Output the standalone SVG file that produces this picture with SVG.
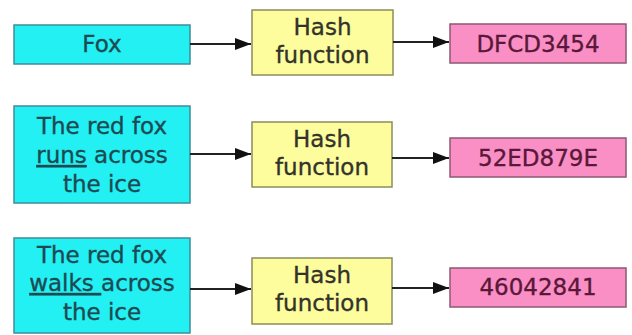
<svg xmlns="http://www.w3.org/2000/svg" width="632" height="335" viewBox="0 0 632 335">
  <style>
    text { font-family: "DejaVu Sans", Verdana, sans-serif; font-size: 23px; text-anchor: middle; stroke-width: 0.35; }
    .in rect { fill: #22f0f2; stroke: #3f8d99; stroke-width: 1.5; }
    .in text { fill: #1d4a52; stroke: #1d4a52; }
    .hf rect { fill: #fdfd9e; stroke: #8c8c5a; stroke-width: 1.5; }
    .hf text { fill: #33332a; stroke: #33332a; }
    .out rect { fill: #fa8fc6; stroke: #8c5a72; stroke-width: 1.5; }
    .out text { fill: #5a1838; stroke: #5a1838; }
    .conn line { stroke: #222; stroke-width: 2; marker-end: url(#arrow); }
  </style>
  <defs>
    <marker id="arrow" viewBox="0 0 16 12" refX="16" refY="6" markerWidth="16" markerHeight="12" markerUnits="userSpaceOnUse" orient="auto">
      <path d="M0,0 L16,6 L0,12 z" fill="#111"/>
    </marker>
  </defs>
  <rect width="632" height="335" fill="#ffffff"/>

  <!-- row 1 -->
  <g id="input1" class="in">
    <rect x="14" y="25" width="176" height="39"/>
    <text x="102" y="52">Fox</text>
  </g>
  <g id="hash1" class="hf">
    <rect x="252" y="10" width="141" height="65"/>
    <text x="322.5" y="35">Hash</text>
    <text x="322.5" y="63">function</text>
  </g>
  <g id="digest1" class="out">
    <rect x="450" y="24" width="176" height="39"/>
    <text x="538" y="52">DFCD3454</text>
  </g>

  <!-- row 2 -->
  <g id="input2" class="in">
    <rect x="14" y="106" width="176" height="97"/>
    <text x="102" y="134">The red fox</text>
    <text x="102" y="163"><tspan text-decoration="underline">runs</tspan> across</text>
    <text x="102" y="192">the ice</text>
  </g>
  <g id="hash2" class="hf">
    <rect x="252" y="122" width="140" height="65"/>
    <text x="322" y="147">Hash</text>
    <text x="322" y="175">function</text>
  </g>
  <g id="digest2" class="out">
    <rect x="450" y="138" width="176" height="39"/>
    <text x="538" y="166">52ED879E</text>
  </g>

  <!-- row 3 -->
  <g id="input3" class="in">
    <rect x="14" y="238" width="176" height="95"/>
    <text x="102" y="263">The red fox</text>
    <text x="102" y="291"><tspan text-decoration="underline">walks </tspan>across</text>
    <text x="102" y="320">the ice</text>
  </g>
  <g id="hash3" class="hf">
    <rect x="252" y="258" width="140" height="66"/>
    <text x="322" y="283">Hash</text>
    <text x="322" y="311">function</text>
  </g>
  <g id="digest3" class="out">
    <rect x="450" y="268" width="176" height="39"/>
    <text x="538" y="295">46042841</text>
  </g>

  <g id="connectors" class="conn">
    <line x1="190" y1="44" x2="251" y2="44"/>
    <line x1="393" y1="42" x2="449" y2="42"/>
    <line x1="190" y1="154" x2="251" y2="154"/>
    <line x1="392" y1="158" x2="449" y2="158"/>
    <line x1="190" y1="289" x2="251" y2="289"/>
    <line x1="392" y1="288" x2="449" y2="288"/>
  </g>
</svg>
